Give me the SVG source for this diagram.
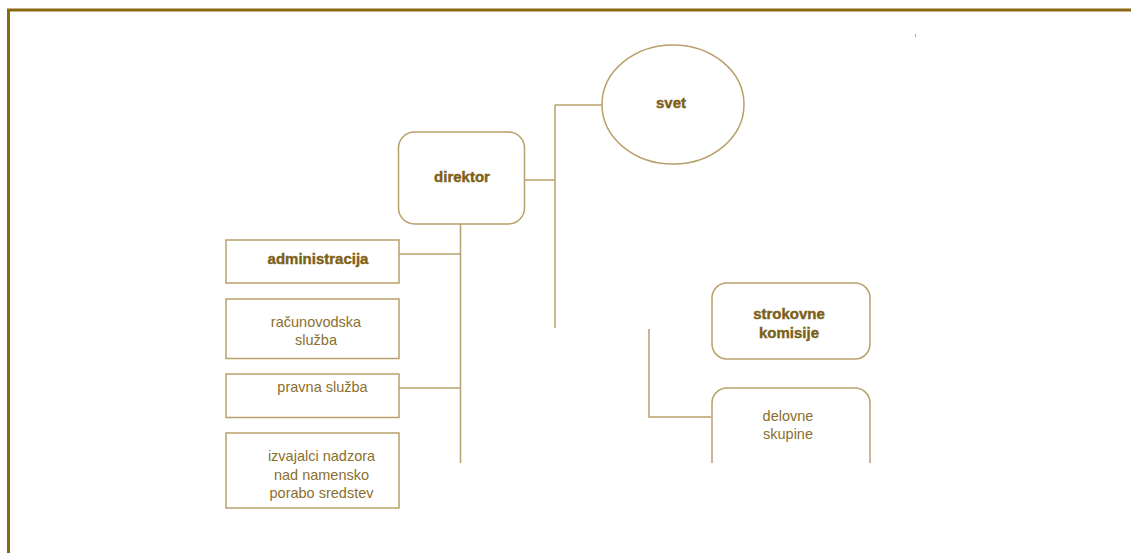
<svg xmlns="http://www.w3.org/2000/svg" width="1131" height="553" viewBox="0 0 1131 553">
<style>
.box{fill:#fff;stroke:#b8a06a;stroke-width:1.5}
.ln{fill:none;stroke:#b8a06a;stroke-width:1.5}
.b{font-family:"Liberation Sans",Arial,sans-serif;font-weight:bold;font-size:15px;fill:#7d6018;text-anchor:middle;stroke:#7d6018;stroke-width:0.4}
.r{font-family:"Liberation Sans",Arial,sans-serif;font-size:14.5px;fill:#8a6f2e;text-anchor:middle}
</style>
<rect width="1131" height="553" fill="#fff"/>
<rect x="8.5" y="10" width="1200" height="600" fill="none" stroke="#8b6914" stroke-width="3"/>
<rect x="915" y="34" width="1" height="3" fill="#b8a06a"/>
<g id="connectors">
<path class="ln" d="M525 180 H555 M555 105 V328 M555 105 H602"/>
<path class="ln" d="M460.5 224 V463 M399 254 H460.5 M399 388 H460.5"/>
<path class="ln" d="M649 329 V417 H711"/>
</g>
<g id="svet"><ellipse class="box" cx="673" cy="104.5" rx="71" ry="59.5"/><text class="b" x="671" y="108">svet</text></g>
<g id="direktor"><rect class="box" x="398.5" y="132" width="126" height="92" rx="16"/><text class="b" x="462" y="182">direktor</text></g>
<g id="administracija"><rect class="box" x="226" y="240" width="173" height="43"/><text class="b" x="318" y="264">administracija</text></g>
<g id="racunovodska"><rect class="box" x="226" y="299" width="173" height="59.5"/><text class="r" x="316" y="327">računovodska</text><text class="r" x="316" y="345">služba</text></g>
<g id="pravna"><rect class="box" x="226" y="374" width="173" height="43.5"/><text class="r" x="322.5" y="392">pravna služba</text></g>
<g id="izvajalci"><rect class="box" x="226" y="433" width="173" height="75"/><text class="r" x="321.5" y="461">izvajalci nadzora</text><text class="r" x="321.5" y="480">nad namensko</text><text class="r" x="321.5" y="498">porabo sredstev</text></g>
<g id="strokovne"><rect class="box" x="712" y="283" width="158" height="76" rx="15"/><text class="b" x="789" y="319">strokovne</text><text class="b" x="789" y="338">komisije</text></g>
<g id="delovne"><path class="box" d="M712 463 V403 A15 15 0 0 1 727 388 H855 A15 15 0 0 1 870 403 V463"/><text class="r" x="788" y="421">delovne</text><text class="r" x="788" y="439">skupine</text></g>
</svg>
